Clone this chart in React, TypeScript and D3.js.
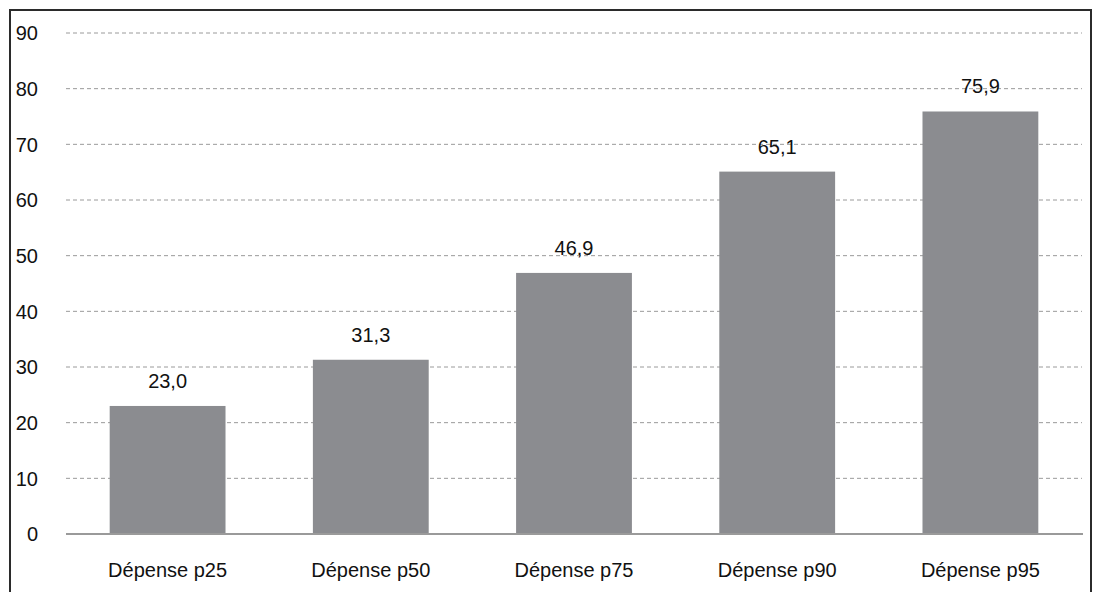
import React from "react";
import * as d3 from "d3";

const categories = ["Dépense p25", "Dépense p50", "Dépense p75", "Dépense p90", "Dépense p95"];
const values = [23.0, 31.3, 46.9, 65.1, 75.9];
const valueLabels = ["23,0", "31,3", "46,9", "65,1", "75,9"];
const yTicks = [0, 10, 20, 30, 40, 50, 60, 70, 80, 90];

const W = 1096;
const H = 592;
const FONT = "'Liberation Sans', Arial, Helvetica, sans-serif";

export default function App() {
  const x = d3.scaleBand<string>().domain(categories).range([66, 1082]).paddingInner(0.43).paddingOuter(0.215);
  const y = d3.scaleLinear().domain([0, 90]).range([534, 33]);

  return (
    <svg
      width={W}
      height={H}
      style={{ position: "absolute", left: 0, top: 0, background: "#fff" }}
      fontFamily={FONT}
    >
      <rect x={0} y={0} width={W} height={H} fill="#fff" />
      {/* frame */}
      <path d={`M10,${H + 5} L10,10 L1091,10 L1091,${H + 5}`} fill="none" stroke="#2b2b2b" strokeWidth={2} />
      {/* grid */}
      {yTicks.map((t) => (
        <g key={t}>
          {t > 0 && (
            <line x1={66} x2={1082} y1={y(t)} y2={y(t)} stroke="#9a9a9a" strokeWidth={1} strokeDasharray="4,3" />
          )}
          <text x={38} y={y(t)} dy="0.36em" textAnchor="end" fontSize={20} fill="#111">
            {t}
          </text>
        </g>
      ))}
      {/* bars */}
      {categories.map((c, i) => (
        <g key={c}>
          <rect x={x(c)} y={y(values[i])} width={x.bandwidth()} height={y(0) - y(values[i])} fill="#8b8c90" />
          <text x={x(c)! + x.bandwidth() / 2} y={y(values[i]) - 18} textAnchor="middle" fontSize={20} fill="#111">
            {valueLabels[i]}
          </text>
          <text x={x(c)! + x.bandwidth() / 2} y={577} textAnchor="middle" fontSize={20} fill="#111">
            {c}
          </text>
        </g>
      ))}
      {/* axis */}
      <line x1={66} x2={1083} y1={y(0)} y2={y(0)} stroke="#9a9a9a" strokeWidth={2} />
    </svg>
  );
}
